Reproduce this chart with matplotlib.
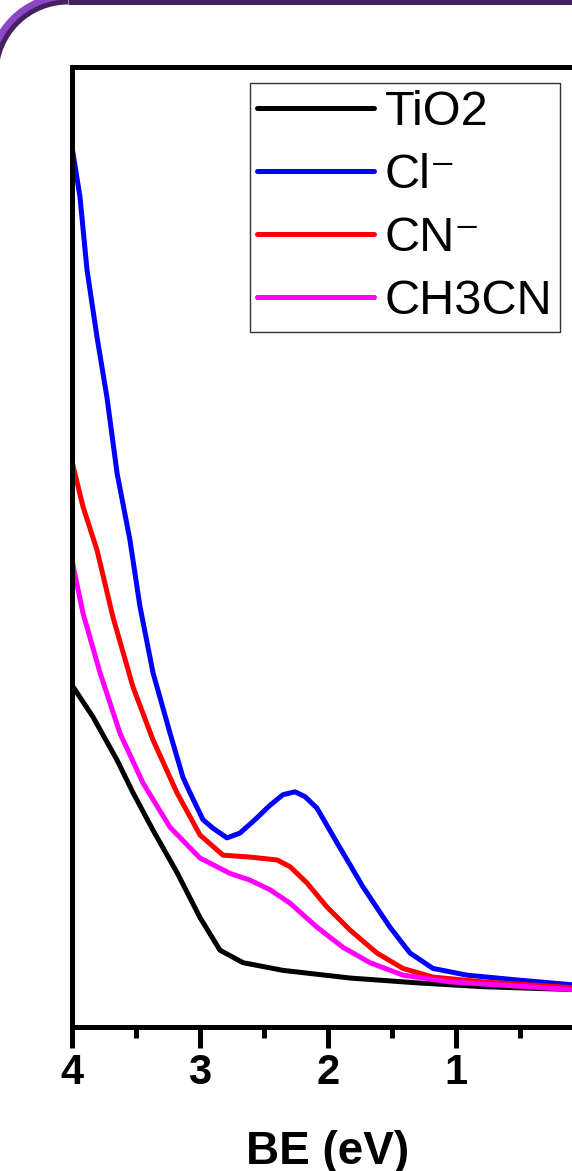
import numpy as np
import matplotlib
matplotlib.use("Agg")
import matplotlib.pyplot as plt
from matplotlib.patches import Arc
from matplotlib.ticker import MultipleLocator

plt.rcParams['font.family'] = ['Liberation Sans', 'DejaVu Sans']

# binding energy (eV) and normalised intensity for each sample
be_tio2 = [4.000, 3.836, 3.648, 3.523, 3.367, 3.180, 3.000, 2.844, 2.664, 2.352,
           1.828, 1.305, 0.789, 0.094]
int_tio2 = [0.356, 0.323, 0.278, 0.244, 0.205, 0.161, 0.114, 0.080, 0.067, 0.059,
            0.051, 0.046, 0.042, 0.039]

be_cl = [4.000, 3.938, 3.883, 3.805, 3.727, 3.648, 3.547, 3.469, 3.367, 3.234,
         3.133, 3.078, 2.977, 2.898, 2.789, 2.688, 2.570, 2.453, 2.352, 2.258,
         2.180, 2.086, 2.008, 1.930, 1.828, 1.727, 1.617, 1.516, 1.359, 1.180,
         0.914, 0.523, 0.094]
int_cl = [0.917, 0.865, 0.789, 0.719, 0.656, 0.577, 0.507, 0.438, 0.369, 0.306,
          0.260, 0.244, 0.216, 0.207, 0.197, 0.202, 0.216, 0.231, 0.242, 0.245,
          0.240, 0.228, 0.210, 0.192, 0.169, 0.146, 0.124, 0.104, 0.077, 0.061,
          0.054, 0.049, 0.044]

be_cn = [4.000, 3.914, 3.805, 3.680, 3.523, 3.367, 3.180, 3.000, 2.820, 2.609,
         2.398, 2.297, 2.164, 2.008, 1.828, 1.617, 1.414, 1.180, 0.789, 0.094]
int_cn = [0.589, 0.542, 0.497, 0.427, 0.354, 0.299, 0.244, 0.200, 0.179, 0.177,
          0.174, 0.167, 0.150, 0.125, 0.101, 0.077, 0.061, 0.052, 0.047, 0.041]

be_ch3cn = [4.000, 3.914, 3.781, 3.625, 3.445, 3.234, 3.000, 2.766, 2.609, 2.453,
            2.297, 2.086, 1.883, 1.672, 1.414, 1.047, 0.094]
int_ch3cn = [0.486, 0.431, 0.369, 0.306, 0.254, 0.208, 0.176, 0.160, 0.153, 0.143,
             0.129, 0.104, 0.083, 0.067, 0.054, 0.047, 0.039]

series = [
    (be_tio2, int_tio2, 'black', 'TiO2'),
    (be_cl, int_cl, '#0000ff', 'Cl\u207b'),
    (be_cn, int_cn, '#ff0000', 'CN\u207b'),
    (be_ch3cn, int_ch3cn, '#ff00ff', 'CH3CN'),
]

W, H, DPI = 572, 1171, 100
fig = plt.figure(figsize=(W / DPI, H / DPI), dpi=DPI)
fig.patch.set_facecolor('white')

# rounded purple frame at the top-left corner, drawn in pixel units
deco = fig.add_axes([0, 0, 1, 1], zorder=-1)
deco.set_xlim(0, W)
deco.set_ylim(H, 0)
deco.axis('off')
cx, cy = 68, 74
for r, lw, col in [(77, 6.0, '#8a48c8'), (72, 3.6, '#45225f')]:
    deco.add_patch(Arc((cx, cy), 2 * r, 2 * r, theta1=180, theta2=270,
                       color=col, lw=lw))
    deco.plot([cx, W + 10], [cy - r, cy - r], color=col, lw=lw,
              solid_capstyle='butt')

ax = fig.add_axes([72 / W, 1 - 1027 / H, 512 / W, 960 / H])
ax.patch.set_alpha(0)
for x, y, c, lab in series:
    ax.plot(x, y, color=c, lw=3.6, label=lab, solid_capstyle='round')

ax.set_xlim(4, 0)
ax.set_ylim(0, 1)
ax.set_xticks([4, 3, 2, 1])
ax.xaxis.set_minor_locator(MultipleLocator(0.5))
ax.set_yticks([])
ax.tick_params(axis='x', which='major', direction='out', length=15, width=3.6,
               labelsize=30, pad=4)
ax.tick_params(axis='x', which='minor', direction='out', length=8, width=3.6)
for t in ax.get_xticklabels():
    t.set_fontweight('bold')
for s in ax.spines.values():
    s.set_linewidth(3.6)
ax.set_xlabel('BE (eV)', fontsize=33, fontweight='bold', labelpad=26)

leg = ax.legend(loc='upper left', bbox_to_anchor=(250 / W, 1 - 83 / H),
                bbox_transform=fig.transFigure, fontsize=35, frameon=True,
                fancybox=False, edgecolor='#333333', framealpha=1,
                handlelength=2.4, handletextpad=0.22, labelspacing=0.37,
                borderpad=0.15, borderaxespad=0)
leg.get_frame().set_linewidth(1.0)

fig.savefig('out.png', dpi=DPI)
